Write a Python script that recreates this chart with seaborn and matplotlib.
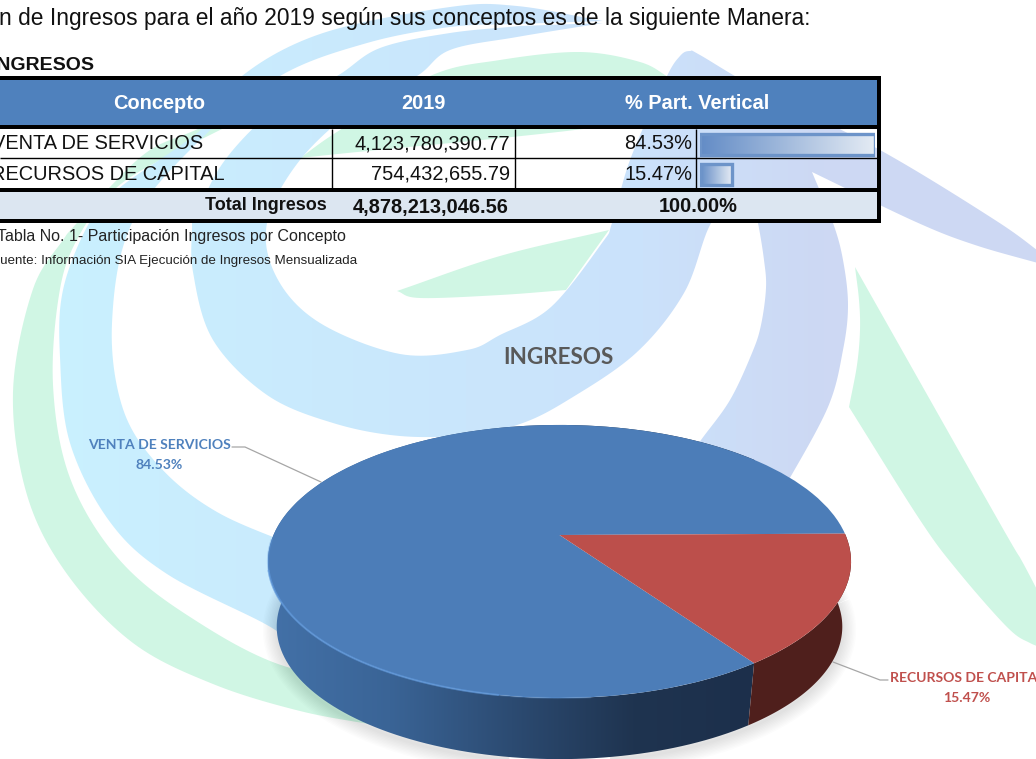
import numpy as np
import matplotlib
matplotlib.use("Agg")
import matplotlib.pyplot as plt
import seaborn as sns
from matplotlib.colors import LinearSegmentedColormap
from matplotlib.patches import Polygon, Rectangle
from matplotlib.transforms import Transform

# table and chart values
concepts = ["VENTA DE SERVICIOS", "RECURSOS DE CAPITAL"]
amounts = ["4,123,780,390.77", "754,432,655.79"]
part_pct = [84.53, 15.47]
part_labels = ["84.53%", "15.47%"]
total_label = "Total Ingresos"
total_amount = "4,878,213,046.56"
total_pct = "100.00%"
columns = ["Concepto", "2019", "% Part. Vertical"]
pie_title = "INGRESOS"

W, H = 1036, 759
PIE_X, PIE_Y, PIE_RX, PIE_RY, TILT = 559.5, 535.0, 286.0, 131.4, 0.194
DEPTH, SHRINK = 66.0, 0.97


class PieTilt(Transform):
    """unit pie -> tilted pie in pixel coords, near side bigger"""
    input_dims = 2
    output_dims = 2

    def transform_non_affine(self, xy):
        xy = np.asarray(xy, dtype=float)
        d = 1 - TILT * xy[:, 1]
        return np.column_stack([PIE_X + PIE_RX * xy[:, 0] / d, PIE_Y + PIE_RY * xy[:, 1] / d])


def spline(points, n=14):
    # catmull-rom through the points
    p = np.array(points, dtype=float)
    p = np.vstack([2 * p[0] - p[1], p, 2 * p[-1] - p[-2]])
    out = []
    t = np.linspace(0, 1, n, endpoint=False)[:, None]
    for i in range(1, len(p) - 2):
        a, b, c, d = p[i - 1], p[i], p[i + 1], p[i + 2]
        out.append(0.5 * (2 * b + (c - a) * t + (2 * a - 5 * b + 4 * c - d) * t ** 2
                          + (3 * b - a - 3 * c + d) * t ** 3))
    out.append(p[-2:-1])
    return np.vstack(out)


def outline(*curves):
    # smooth curves joined with sharp corners
    return np.vstack([spline(c) if len(c) > 2 else np.array(c, dtype=float) for c in curves])


def gradient_fill(ax, verts, cmap, extent, zorder):
    patch = Polygon(verts, closed=True, transform=ax.transData)
    im = ax.imshow(np.linspace(0, 1, 256)[None, :], cmap=cmap, extent=extent, aspect="auto",
                   zorder=zorder, interpolation="bilinear")
    im.set_clip_path(patch)


sns.set_theme(style="white")
plt.rcParams["font.family"] = ["Liberation Sans", "DejaVu Sans"]

fig = plt.figure(figsize=(W / 100, H / 100), dpi=100)
ax = fig.add_axes([0, 0, 1, 1])

# watermark behind everything
GREEN = "#d0f6e4"
swirl = LinearSegmentedColormap.from_list(
    "swirl", [(0, "#c9f2ff"), (0.45, "#cae6fc"), (0.62, "#cbe2fb"), (0.8, "#cdd8f3"), (1, "#cdd8f3")])
sw_ext = [0, W, H, 0]

green_band = outline(
    [(67, 234), (33, 289), (13, 392), (27, 495), (67, 574), (133, 643), (213, 684), (300, 711), (380, 726)],
    [(380, 726), (400, 680)],
    [(400, 680), (287, 667), (187, 615), (117, 557), (70, 478), (53, 385), (60, 289), (80, 234), (115, 189), (160, 160), (210, 135), (310, 85)],
    [(310, 85), (300, 80)],
    [(300, 80), (200, 128), (150, 150), (108, 189), (67, 234)],
)
green_leaf = outline(
    [(300, 158), (340, 130), (430, 76), (500, 60), (580, 52), (640, 62), (670, 78)],
    [(670, 78), (640, 120), (300, 158)],
)
green_wedge = outline(
    [(397, 291), (500, 256), (609, 230)],
    [(609, 230), (566, 290)],
    [(566, 290), (500, 295), (420, 298), (397, 291)],
)
green_right = outline(
    [(855, 267), (859, 300), (860, 330), (857, 365), (849, 407)],
    [(849, 407), (920, 520), (957, 570), (1007, 627), (1030, 643), (1050, 650)],
    [(1050, 650), (1050, 615)],
    [(1050, 615), (1023, 563), (998, 520), (855, 267)],
)
for verts in (green_band, green_leaf, green_wedge, green_right):
    ax.add_patch(Polygon(verts, closed=True, fc=GREEN, ec="none", zorder=1))

band_b = outline(
    [(300, 650), (267, 625), (167, 574), (110, 522), (70, 443), (60, 357), (63, 290), (88, 225), (118, 189), (203, 128), (242, 76), (323, 33), (450, 7), (517, 6), (603, 21)],
    [(603, 21), (517, 24), (450, 27), (367, 43), (280, 76), (200, 140), (132, 223), (112, 323), (123, 409), (160, 467), (217, 512), (300, 548)],
)
gradient_fill(ax, band_b, swirl, sw_ext, 2)

band_c = outline(
    [(192, 223), (193, 272), (213, 340), (267, 395), (333, 423), (400, 436), (467, 435), (520, 424), (568, 400), (636, 353), (684, 293), (710, 225), (738, 190)],
    [(738, 190), (752, 200), (758, 223), (764, 260), (766, 288), (761, 325), (752, 353), (730, 400), (701, 440), (680, 470)],
    [(680, 470), (770, 510)],
    [(770, 510), (787, 483), (828, 407), (843, 350), (848, 305), (843, 260), (833, 223), (812, 172)],
    [(812, 172), (916, 222), (975, 245), (1045, 265)],
    [(1045, 265), (1045, 256)],
    [(1045, 256), (995, 220), (880, 150), (760, 90), (700, 55), (690, 51), (680, 56), (665, 80), (630, 160), (612, 223), (602, 243), (551, 307), (500, 335), (467, 350), (400, 354), (320, 323), (277, 278), (267, 223), (300, 160), (360, 105), (417, 76), (450, 50), (517, 37), (603, 23)],
    [(603, 23), (520, 26)],
    [(520, 26), (450, 33), (380, 48), (337, 76), (280, 105), (225, 160), (192, 223)],
)
gradient_fill(ax, band_c, swirl, sw_ext, 2)

# intro text
ax.text(810, 19, "n de Ingresos para el año 2019 según sus conceptos es de la siguiente Manera:",
        ha="right", va="center", fontsize=16.4, color="#111111", zorder=6)
ax.text(95, 65, "INGRESOS", ha="right", va="center", fontsize=14, fontweight="bold", color="#111111", zorder=6)

# table
ax.add_patch(Rectangle((-5, 80), 881.5, 45, fc="#4f81bd", ec="none", zorder=3))
ax.add_patch(Rectangle((-5, 192), 881.5, 27, fc="#dce6f1", ec="none", zorder=3))
for y0, y1 in [(76, 80), (125, 129), (188, 192), (219, 223)]:
    ax.add_patch(Rectangle((-5, y0), 885.5, y1 - y0, fc="black", ec="none", zorder=4))
ax.add_patch(Rectangle((876.5, 76), 4, 147, fc="black", ec="none", zorder=4))
ax.hlines(158, 0, 877, color="black", lw=1.0, zorder=4)
ax.vlines([331.5, 514.5, 696], 129, 188, color="black", lw=1.0, zorder=4)

for label, xc in zip(columns, [159, 423, 697]):
    ax.text(xc, 103.5, label, ha="center", va="center", fontsize=14.4, fontweight="bold", color="white", zorder=6)
for concept, amount, pct, y, xr in zip(concepts, amounts, part_labels, [143.5, 174.5], [203, 225]):
    ax.text(xr, y, concept, ha="right", va="center", fontsize=14.4, color="#111111", zorder=6)
    ax.text(510, y, amount, ha="right", va="center", fontsize=14.4, color="#111111", zorder=6)
    ax.text(692, y, pct, ha="right", va="center", fontsize=14.4, color="#111111", zorder=6)
ax.text(327, 206, total_label, ha="right", va="center", fontsize=13, fontweight="bold", color="#111111", zorder=6)
ax.text(509, 207, total_amount, ha="right", va="center", fontsize=14.4, fontweight="bold", color="#111111", zorder=6)
ax.text(698, 206, total_pct, ha="center", va="center", fontsize=14.4, fontweight="bold", color="#111111", zorder=6)

ax.text(346, 236, "Tabla No. 1- Participación Ingresos por Concepto", ha="right", va="center",
        fontsize=11.55, color="#222222", zorder=6)
ax.text(357, 261, "Fuente: Información SIA Ejecución de Ingresos Mensualizada", ha="right", va="center",
        fontsize=9.65, color="#222222", zorder=6)

# 3d pie: slices come from ax.pie, then get bent by the tilt transform
tilt = PieTilt()
wedges, _ = ax.pie(part_pct, colors=["#4c7db8", "#bc4f4b"], startangle=part_pct[1] * 3.6 - 0.6,
                   wedgeprops={"edgecolor": "none", "zorder": 9})
for w in wedges:
    w.set_transform(tilt + ax.transData)


def rim(theta1, theta2, n=200):
    th = np.radians(np.linspace(theta1, theta2, n))
    return tilt.transform(np.column_stack([np.cos(th), np.sin(th)]))


def base(pts):
    return np.array([PIE_X, PIE_Y]) + SHRINK * (pts - np.array([PIE_X, PIE_Y])) + np.array([0, DEPTH])


# soft shadow under the disc
shadow = base(rim(0, 360))
for lw in np.linspace(20, 2, 10):
    ax.add_patch(Polygon(shadow + [0, 3], closed=True, fc="none", ec="black", lw=lw, alpha=0.012, zorder=5))

blue_wedge, red_wedge = wedges
top = rim(blue_wedge.theta1, blue_wedge.theta2)
side_cmap = LinearSegmentedColormap.from_list("side", ["#4371a8", "#3a6496", "#2c4b72", "#1f3450", "#1c2f4b"])
gradient_fill(ax, np.vstack([top, base(top)[::-1]]), side_cmap, [268, 755, H, 0], 7)
top = rim(red_wedge.theta1, red_wedge.theta2)
ax.add_patch(Polygon(np.vstack([top, base(top)[::-1]]), closed=True, fc="#4f1f1c", ec="none", zorder=8))

# light rim on the near left edge, fading out towards both ends
for t1, t2, alpha in [(85, 100, 0.25), (100, 165, 0.7), (165, 178, 0.35)]:
    front = rim(t1, t2)
    ax.plot(front[:, 0], front[:, 1], color="#6099dc", lw=1.5, alpha=alpha, zorder=10)

ax.text(558, 358, pie_title, ha="center", va="center", family="Lato", fontsize=16.2, fontweight="bold",
        color="#595959", zorder=11)

# leader lines and data labels
ax.plot([232, 245, 321], [447, 447, 482], color="#a6a6a6", lw=0.9, zorder=6)
ax.plot([833, 880, 888], [662, 680, 680], color="#a6a6a6", lw=0.9, zorder=6)
for concept, pct, xc, y, col in zip(concepts, part_labels, [159, 967], [445, 678], ["#4f81bd", "#c0504d"]):
    ax.text(xc, y, concept, ha="center", va="center", family="Lato", fontsize=10.1, fontweight="bold", color=col, zorder=11)
    ax.text(xc, y + 20, pct, ha="center", va="center", family="Lato", fontsize=10.1, fontweight="bold", color=col, zorder=11)

ax.set_aspect("auto")
ax.set_xlim(0, W)
ax.set_ylim(H, 0)
ax.axis("off")

# data bars in the last table column
bar_left, bar_right, bar_top, bar_bottom = 700, 874.5, 129, 190
ax_bars = fig.add_axes([bar_left / W, 1 - bar_bottom / H, (bar_right - bar_left) / W, (bar_bottom - bar_top) / H])
sns.barplot(x=part_pct, y=concepts, ax=ax_bars, orient="h", width=0.68, color="white",
            edgecolor="#6d94c9", linewidth=2.4, saturation=1)
bar_cmap = LinearSegmentedColormap.from_list("bar", ["#638cc6", "#e4ebf4"])
xlim = (0, max(part_pct))
ylim = ax_bars.get_ylim()
for bar in ax_bars.patches:
    x0, y0 = bar.get_x(), bar.get_y()
    ax_bars.imshow(np.linspace(0, 1, 128)[None, :], cmap=bar_cmap, aspect="auto", interpolation="bilinear",
                   extent=[x0, x0 + bar.get_width(), y0 + bar.get_height(), y0], zorder=1)
    bar.set_facecolor("none")
    bar.set_zorder(2)
ax_bars.set_xlim(xlim)
ax_bars.set_ylim(ylim)
ax_bars.axis("off")
ax_bars.patch.set_alpha(0)
ax_bars.set_zorder(5)

fig.savefig("out.png", dpi=100)
